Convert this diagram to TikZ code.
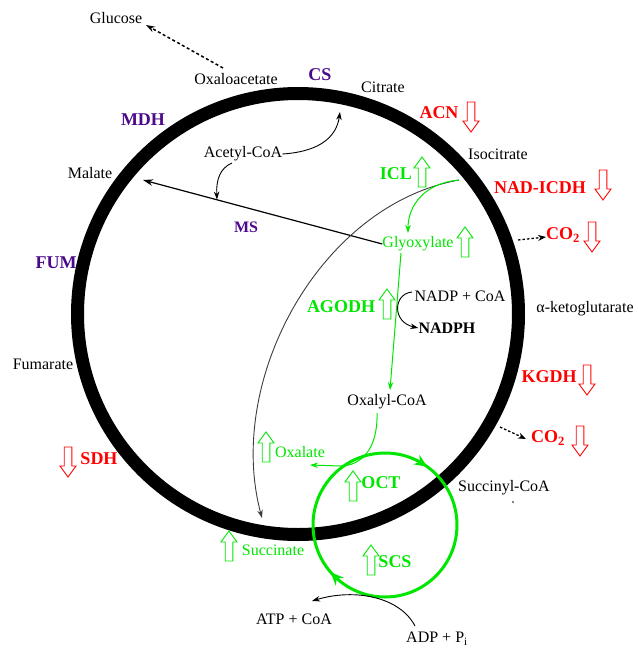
\documentclass[tikz,border=0pt]{standalone}
\usepackage{fontspec}
\setmainfont{Liberation Serif}
\usetikzlibrary{arrows.meta,calc}
\definecolor{enzred}{RGB}{255,0,0}
\definecolor{enzpur}{RGB}{75,10,140}
\definecolor{enzgrn}{RGB}{0,230,0}
\definecolor{arcgray}{RGB}{60,60,60}
\tikzset{
  lbl/.style={font=\fontsize{16}{18}\selectfont, inner sep=0pt},
  enz/.style={font=\bfseries\fontsize{18}{20}\selectfont, inner sep=0pt},
  enzs/.style={font=\bfseries\fontsize{16}{18}\selectfont, inner sep=0pt},
  upar/.pic={\draw[#1,fill=white,line width=0.9pt] (-3.8,15) -- (-3.8,-4) -- (-8,-4) -- (0,-15) -- (8,-4) -- (3.8,-4) -- (3.8,15) -- cycle;},
  dnar/.pic={\draw[#1,fill=white,line width=0.9pt] (-3.8,-15) -- (-3.8,4) -- (-8,4) -- (0,15) -- (8,4) -- (3.8,4) -- (3.8,-15) -- cycle;},
  thinarr/.style={line width=0.9pt, -{Stealth[length=8pt,width=5.5pt]}},
  dasharr/.style={line width=1.5pt, dash pattern=on 3pt off 2.5pt, -{Stealth[length=9pt,width=6pt]}},
  grnarr/.style={enzgrn, line width=1pt, -{Stealth[length=8pt,width=5.5pt]}},
  bigtip/.style={enzgrn, line width=3pt, -{Stealth[length=13pt,width=11pt]}}
}
\begin{document}
\begin{tikzpicture}[x=1pt,y=-1pt]
\useasboundingbox (0,0) rectangle (638,649);
% cycles
\coordinate (cen) at (298,314);
\draw[line width=13pt] (cen) circle (220.5pt);
\coordinate (gc) at (385,525);
\draw[enzgrn, line width=3pt] (gc) circle (72pt);
\draw[bigtip] ($(gc)+(-60:72)$) -- ($(gc)+(-54:72)$);
\draw[bigtip] ($(gc)+(133:72)$) -- ($(gc)+(139:72)$);

% labels
\node[lbl] (glucose) at (116,18) {Glucose};
\node[lbl] (oxac) at (236,79) {Oxaloacetate};
\node[enz,enzpur] (cs) at (320,75) {CS};
\node[lbl] (citrate) at (383,87) {Citrate};
\node[enz,enzpur] (mdh) at (143,120) {MDH};
\node[lbl] (malate) at (90,173) {Malate};
\node[enz,enzred] (acn) at (439,113) {ACN};
\pic at (471,117) {dnar=enzred};
\node[lbl] (isocit) at (498,154) {Isocitrate};
\node[enz,enzgrn] (icl) at (396,174) {ICL};
\pic at (422,172) {upar=enzgrn};
\node[enz,enzred] (nadicdh) at (540,188) {NAD-ICDH};
\pic at (603,185) {dnar=enzred};
\node[enz,enzred] (co2a) at (563,235) {CO\textsubscript{2}};
\pic at (592,237) {dnar=enzred};
\node[lbl] (acetyl) at (243,154) {Acetyl-CoA};
\node[enzs,enzpur] (ms) at (246,227) {MS};
\node[enz,enzpur] (fum) at (56,263) {FUM};
\node[lbl,enzgrn] (glyox) at (418,244) {Glyoxylate};
\pic at (465,242) {upar=enzgrn};
\node[enz,enzgrn] (agodh) at (341,307) {AGODH};
\pic at (387,304) {upar=enzgrn};
\node[lbl] (nadp) at (460,296) {NADP + CoA};
\node[enzs] (nadph) at (447,328) {NADPH};
\node[lbl] (akg) at (585,309) {α-ketoglutarate};
\node[lbl] (fumarate) at (43,364) {Fumarate};
\node[enz,enzred] (kgdh) at (549,377) {KGDH};
\pic at (587,380) {dnar=enzred};
\node[enz,enzred] (co2b) at (548,438) {CO\textsubscript{2}};
\pic at (580,441) {dnar=enzred};
\node[lbl] (oxalyl) at (387,402) {Oxalyl-CoA};
\node[lbl,enzgrn] (oxalate) at (300,452) {Oxalate};
\pic at (266,447) {upar=enzgrn};
\node[enz,enzred] (sdh) at (99,459) {SDH};
\pic at (68,462) {dnar=enzred};
\node[enz,enzgrn] (oct) at (381,483) {OCT};
\pic at (353,486) {upar=enzgrn};
\node[lbl] (succoa) at (504,488) {Succinyl-CoA};
\fill (513,502) circle (0.8pt);
\node[lbl,enzgrn] (succ) at (273,550) {Succinate};
\pic at (229,546) {upar=enzgrn};
\node[enz,enzgrn] (scs) at (395,562) {SCS};
\pic at (371,560) {upar=enzgrn};
\node[lbl] (atp) at (294,619) {ATP + CoA};
\node[lbl] (adp) at (437,639) {ADP + P\textsubscript{i}};

% connector end points
\coordinate (oxacT) at (223,68);
\coordinate (glucT) at (146,25);
\coordinate (iso) at (459,180);
\coordinate (malT) at (143,180);
\coordinate (citT) at (340,112);
\coordinate (acS) at (232,163);
\coordinate (msJ) at (217,199.5);
\coordinate (glyT) at (408,233);
\coordinate (glyB) at (401,253);
\coordinate (oxyT) at (390,390);
\coordinate (oxyB) at (377,413);
\coordinate (oxlT) at (310,465);
\coordinate (nadpS) at (412,292);
\coordinate (succT) at (262,518);
\coordinate (adpS) at (415,626);
\coordinate (atpT) at (312,601);
\coordinate (co2aS) at (518,240);
\coordinate (co2aT) at (546,237);
\coordinate (co2bS) at (500,427);
\coordinate (co2bT) at (526,439);

% connectors
\draw[dasharr] (oxacT) -- (glucT);
\draw[line width=1.2pt, -{Stealth[length=10pt,width=6.5pt]}] (glyox.west) -- (malT);
\draw[thinarr] (acetyl.east) .. controls (315,152) and (336,140) .. (citT);
\draw[thinarr] (acS) .. controls (220,168) and (216,180) .. (msJ);
\draw[thinarr, arcgray] (iso) .. controls (320,205) and (225,380) .. (succT);
\draw[grnarr] (iso) .. controls (425,183) and (408,205) .. (glyT);
\draw[grnarr] (glyB) -- (oxyT);
\draw[grnarr] (oxyB) .. controls (378,448) and (362,466) .. (340,466) -- (oxlT);
\draw[thinarr] (nadpS) .. controls (393,294) and (392,322) .. (nadph.west);
\draw[thinarr] (adpS) .. controls (400,597) and (355,588) .. (atpT);
\draw[line width=1.3pt, dash pattern=on 2.5pt off 2pt, -{Stealth[length=8pt,width=6pt]}] (co2aS) -- (co2aT);
\draw[line width=1.3pt, dash pattern=on 2.5pt off 2pt, -{Stealth[length=8pt,width=6pt]}] (co2bS) -- (co2bT);
\end{tikzpicture}
\end{document}
